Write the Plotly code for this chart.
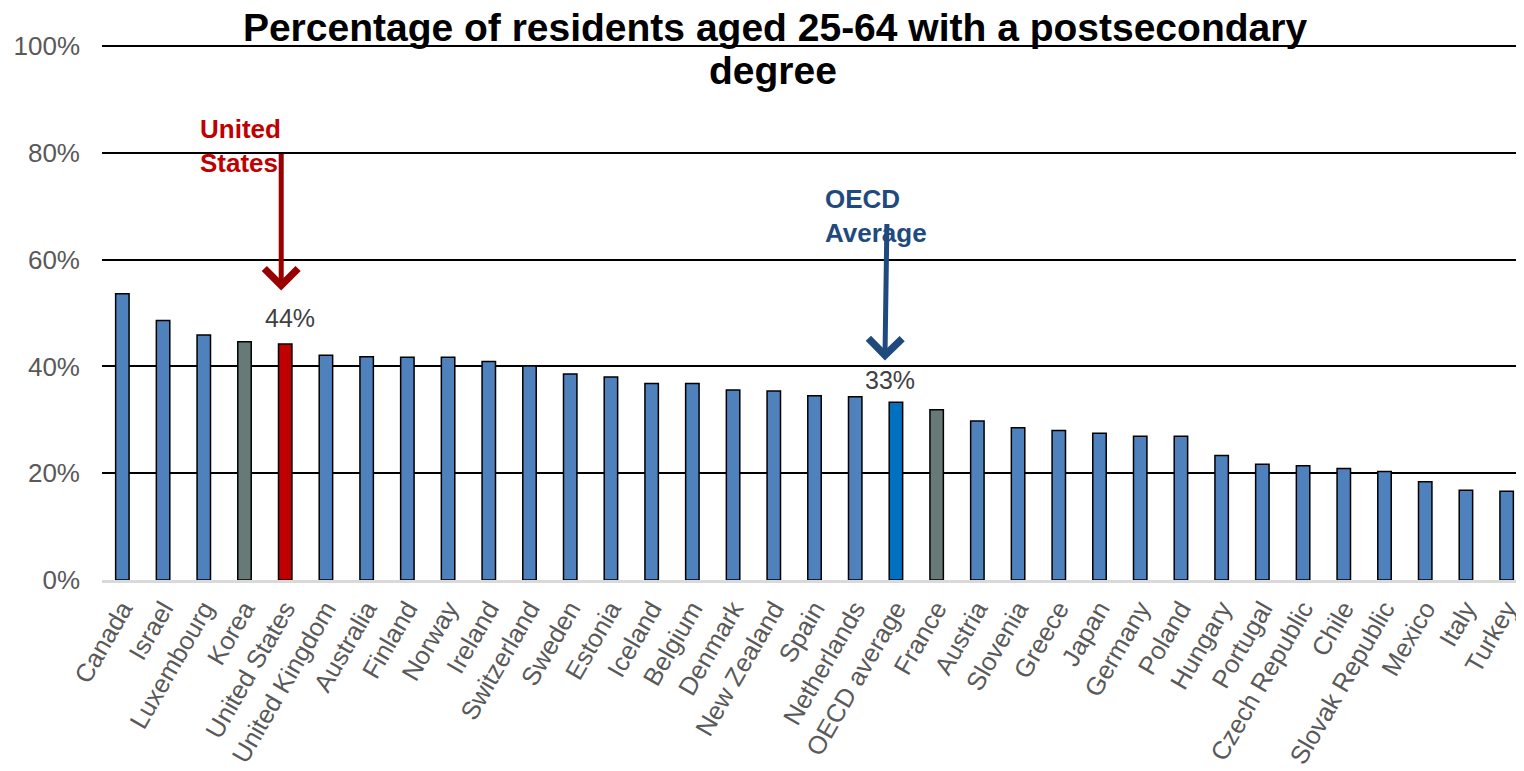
import plotly.graph_objects as go

countries = [
    "Canada", "Israel", "Luxembourg", "Korea", "United States", "United Kingdom",
    "Australia", "Finland", "Norway", "Ireland", "Switzerland", "Sweden", "Estonia",
    "Iceland", "Belgium", "Denmark", "New Zealand", "Spain", "Netherlands",
    "OECD average", "France", "Austria", "Slovenia", "Greece", "Japan", "Germany",
    "Poland", "Hungary", "Portugal", "Czech Republic", "Chile", "Slovak Republic",
    "Mexico", "Italy", "Turkey",
]
share = [
    0.536, 0.486, 0.459, 0.446, 0.442, 0.421,
    0.418, 0.417, 0.417, 0.409, 0.401, 0.386, 0.380,
    0.368, 0.368, 0.356, 0.354, 0.345, 0.343,
    0.333, 0.319, 0.298, 0.285, 0.280, 0.275, 0.269,
    0.269, 0.233, 0.217, 0.214, 0.209, 0.203,
    0.184, 0.168, 0.166,
]
y_ticks = [0, 0.2, 0.4, 0.6, 0.8, 1.0]

# highlight colours
special = {
    "United States": "#C00000",
    "OECD average": "#0070C0",
    "Korea": "#677A78",
    "France": "#677A78",
}
bar_colors = [special.get(c, "#4F81BD") for c in countries]

FONT = "Liberation Sans, Arial, sans-serif"

# page body adds an 8px offset, so margins are set 8px smaller
L, R, T, B = 94, 5, 37, 199
PW = 1524 - L - R
PH = 771 - T - B


def px_x(page_x):
    return (page_x - 8 - L) / PW


def px_y(page_y):
    return (771 - B - (page_y - 8)) / PH


fig = go.Figure(go.Bar(
    x=countries, y=share,
    marker=dict(color=bar_colors, line=dict(color="black", width=1.5)),
    hoverinfo="x+y",
))

us_val = share[countries.index("United States")]
oecd_val = share[countries.index("OECD average")]

annotations = [
    # second title line
    dict(xref="paper", yref="paper", x=px_x(773), y=px_y(70),
         xanchor="center", yanchor="middle", showarrow=False,
         text="<b>degree</b>", font=dict(size=39, color="black", family=FONT)),
    # value labels
    dict(x="United States", y=us_val, text=f"{us_val:.0%}", showarrow=False,
         yanchor="bottom", yshift=10, xshift=5,
         font=dict(size=25, color="#404040", family=FONT)),
    dict(x="OECD average", y=oecd_val, text=f"{oecd_val:.0%}", showarrow=False,
         yanchor="bottom", yshift=6, xshift=-6,
         font=dict(size=25, color="#404040", family=FONT)),
    # arrows
    dict(x="United States", y=us_val + 0.10, ax=0, ay=-138, xshift=-4,
         showarrow=True, arrowhead=4, arrowsize=1.3, arrowwidth=5,
         arrowcolor="#990000", text=""),
    dict(x="OECD average", y=oecd_val + 0.078, ax=2, ay=-138, xshift=-11,
         showarrow=True, arrowhead=4, arrowsize=1.3, arrowwidth=5,
         arrowcolor="#1F4A7E", text=""),
    # callout text
    dict(xref="paper", yref="paper", x=px_x(198), y=px_y(146),
         xanchor="left", yanchor="middle", align="left", showarrow=False,
         text="<b>United<br>States</b>",
         font=dict(size=26, color="#C00000", family=FONT)),
    dict(xref="paper", yref="paper", x=px_x(823), y=px_y(216),
         xanchor="left", yanchor="middle", align="left", showarrow=False,
         text="<b>OECD<br>Average</b>",
         font=dict(size=26, color="#1F4A7E", family=FONT)),
]

fig.update_layout(
    width=1524, height=771,
    margin=dict(l=L, r=R, t=T, b=B, autoexpand=False),
    plot_bgcolor="white", paper_bgcolor="white",
    bargap=0.67,
    showlegend=False,
    title=dict(
        text="<b>Percentage of residents aged 25-64 with a postsecondary</b>",
        x=(775 - 8) / 1524, xref="container", xanchor="center",
        y=1 - (27 - 8) / 771, yref="container", yanchor="middle",
        font=dict(size=39, color="black", family=FONT),
    ),
    annotations=annotations,
    font=dict(family=FONT),
)
fig.update_xaxes(
    tickangle=-60, tickfont=dict(size=25.5, color="#595959"),
    showline=True, linecolor="#D9D9D9", linewidth=2.5,
    ticks="", showgrid=False, automargin=False, ticklabelstandoff=1,
)
fig.update_yaxes(
    range=[0, 1.002], tickvals=y_ticks, tickformat=".0%",
    tickfont=dict(size=26, color="#595959"),
    showgrid=True, gridcolor="black", gridwidth=1.5,
    zeroline=False, ticklabelstandoff=21, automargin=False,
)

fig.write_html("out.html")
